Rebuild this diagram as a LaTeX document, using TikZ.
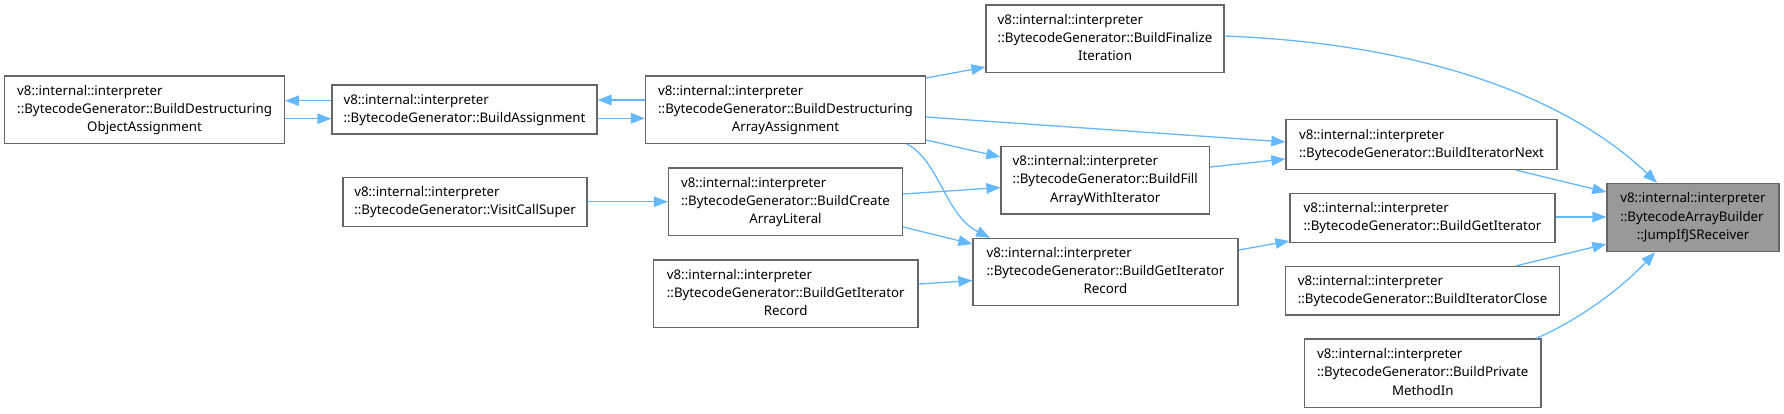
\documentclass[tikz,border=0pt]{standalone}
\usepackage{fontspec}
\setmainfont{Noto Sans}
\usetikzlibrary{arrows.meta}
\definecolor{edgec}{HTML}{63B8FF}
\definecolor{bordc}{HTML}{666666}
\definecolor{mainfill}{HTML}{999999}
\newcommand{\lblthree}[3]{\begin{tabular}{@{}l@{}}#1\\#2\\\multicolumn{1}{@{}c@{}}{#3}\end{tabular}}
\newcommand{\lbltwo}[2]{\begin{tabular}{@{}l@{}}#1\\#2\end{tabular}}
\begin{document}
\begin{tikzpicture}[x=1pt,y=-1pt,
 box/.style={draw=bordc, line width=1.3pt, fill=white, inner sep=0pt, font=\fontsize{13.3}{18.3}\selectfont},
 edge/.style={draw=edgec, line width=1.3pt, -{Triangle[length=14pt,width=10.5pt]}}]
\useasboundingbox (0,0) rectangle (1784,413);

\node[box, minimum width=279.8pt, minimum height=67.3pt] (n1) at (144.6,109.7) {\lblthree{v8::internal::interpreter}{::BytecodeGenerator::BuildDestructuring}{ObjectAssignment}};
\node[box, minimum width=265pt, minimum height=49pt] (n2) at (464.5,109.5) {\lbltwo{v8::internal::interpreter}{::BytecodeGenerator::BuildAssignment}};
\node[box, minimum width=280pt, minimum height=67.3pt] (n3) at (785.5,109.7) {\lblthree{v8::internal::interpreter}{::BytecodeGenerator::BuildDestructuring}{ArrayAssignment}};
\node[box, minimum width=238pt, minimum height=67.7pt] (n4) at (1105,38.9) {\lblthree{v8::internal::interpreter}{::BytecodeGenerator::BuildFinalize}{Iteration}};
\node[box, minimum width=271pt, minimum height=50pt] (n5) at (1421.5,144.5) {\lbltwo{v8::internal::interpreter}{::BytecodeGenerator::BuildIteratorNext}};
\node[box, minimum width=208.5pt, minimum height=67.5pt] (n6) at (1105.25,180.25) {\lblthree{v8::internal::interpreter}{::BytecodeGenerator::BuildFill}{ArrayWithIterator}};
\node[box, minimum width=244pt, minimum height=49pt] (n7) at (465,201.8) {\lbltwo{v8::internal::interpreter}{::BytecodeGenerator::VisitCallSuper}};
\node[box, minimum width=234pt, minimum height=67.5pt] (n8) at (785.5,201.75) {\lblthree{v8::internal::interpreter}{::BytecodeGenerator::BuildCreate}{ArrayLiteral}};
\node[box, minimum width=265pt, minimum height=67pt] (n9) at (1105.5,272) {\lblthree{v8::internal::interpreter}{::BytecodeGenerator::BuildGetIterator}{Record}};
\node[box, minimum width=264.5pt, minimum height=67.5pt] (n10) at (785.75,293.75) {\lblthree{v8::internal::interpreter}{::BytecodeGenerator::BuildGetIterator}{Record}};
\node[box, minimum width=265pt, minimum height=48.8pt] (n11) at (1422.5,217.9) {\lbltwo{v8::internal::interpreter}{::BytecodeGenerator::BuildGetIterator}};
\node[box, minimum width=274pt, minimum height=48.5pt] (n12) at (1422.5,290.75) {\lbltwo{v8::internal::interpreter}{::BytecodeGenerator::BuildIteratorClose}};
\node[box, minimum width=236.5pt, minimum height=68.3pt] (n13) at (1422.75,373.15) {\lblthree{v8::internal::interpreter}{::BytecodeGenerator::BuildPrivate}{MethodIn}};
\node[box, fill=mainfill, minimum width=172pt, minimum height=68pt] (n14) at (1693,217.5) {\lblthree{v8::internal::interpreter}{::BytecodeArrayBuilder}{::JumpIfJSReceiver}};

\draw[edge] (n4.east |- 0,36) .. controls (1430,44) and (1570,100) .. (n14.north -| 1657,0);
\draw[edge] (n5.south -| 1516,0) -- (n14.west |- 0,192);
\draw[edge] (n11.east |- 0,217) -- (n14.west |- 0,217);
\draw[edge] (n12.north -| 1516,0) -- (n14.west |- 0,244);
\draw[edge] (n13.north -| 1536,0) .. controls (1575,322) and (1620,290) .. (n14.south -| 1655,0);
\draw[edge] (n3.east |- 0,78) -- (n4.west |- 0,67);
\draw[edge] (n3.east |- 0,117) -- (n5.west |- 0,142);
\draw[edge] (n3.east |- 0,140) -- (n6.west |- 0,157);
\draw[edge] (n3.south -| 907,0) .. controls (940,162) and (945,215) .. (n9.north -| 990,0);
\draw[edge] (n6.east |- 0,167) -- (n5.west |- 0,159);
\draw[edge] (n8.east |- 0,194) -- (n6.west |- 0,187.5);
\draw[edge] (n8.east |- 0,227) -- (n9.west |- 0,244);
\draw[edge] (n10.east |- 0,284) -- (n9.west |- 0,280.5);
\draw[edge] (n9.east |- 0,250) -- (n11.west |- 0,241);
\draw[edge] (n7.east |- 0,201.7) -- (n8.west |- 0,201.7);
\draw[edge] (n2.west |- 0,100.7) -- (n1.east |- 0,100.7);
\draw[edge] (n1.east |- 0,118.7) -- (n2.west |- 0,118.7);
\draw[edge] (n3.west |- 0,100) -- (n2.east |- 0,100);
\draw[edge] (n2.east |- 0,118.3) -- (n3.west |- 0,118.3);
\end{tikzpicture}
\end{document}
